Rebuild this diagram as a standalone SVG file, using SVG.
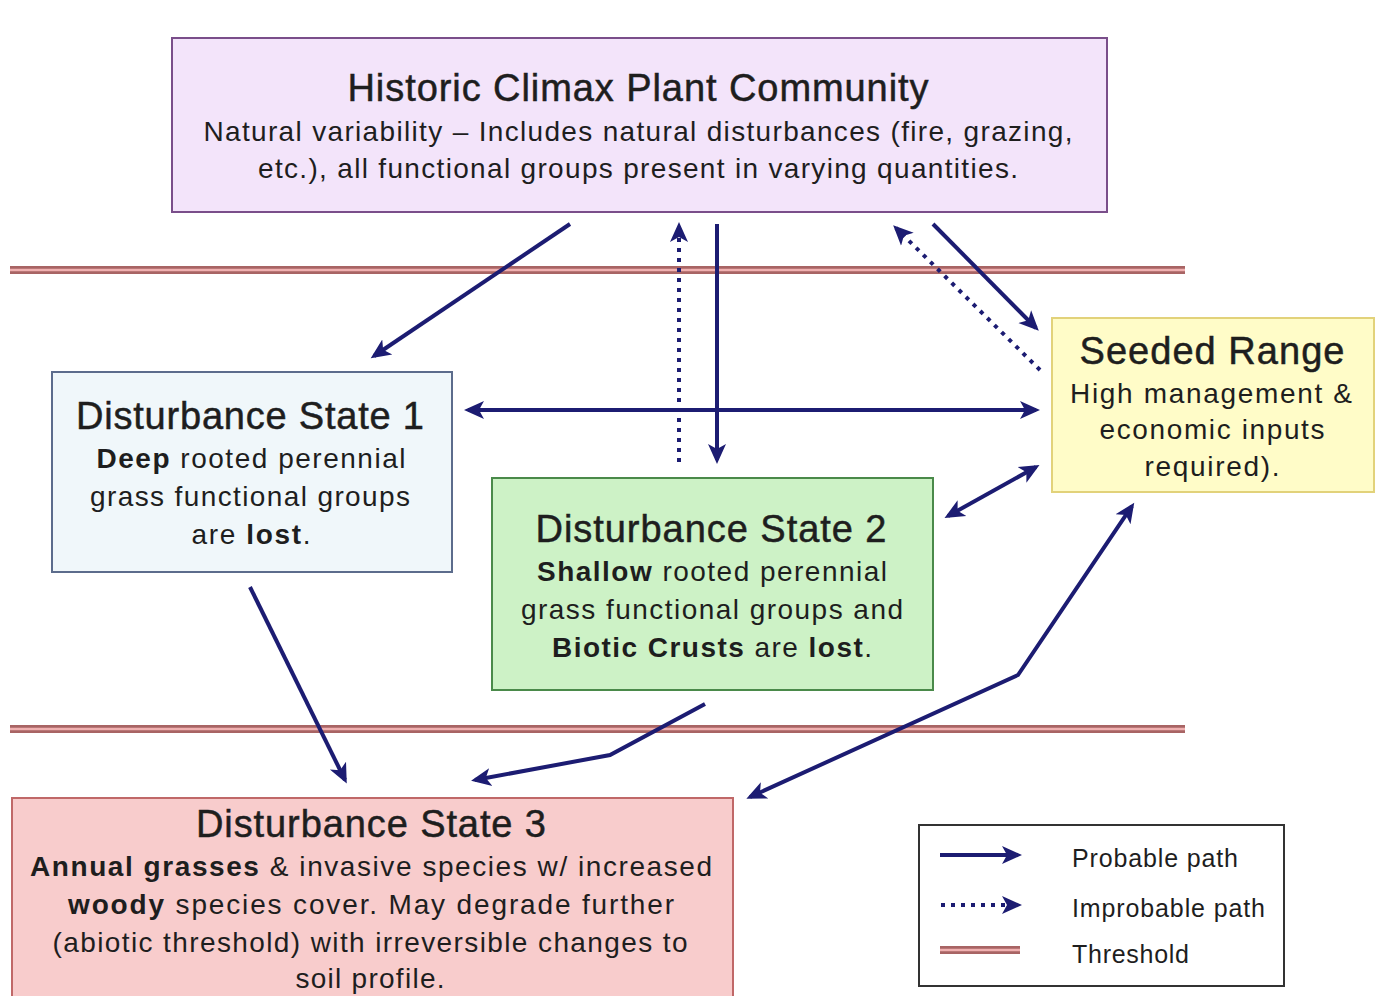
<svg xmlns="http://www.w3.org/2000/svg" width="1380" height="996" viewBox="0 0 1380 996">
<style>
text{font-family:"Liberation Sans",Arial,sans-serif;fill:#1e1e1e;text-anchor:middle}
.t{font-size:38px;stroke:#1e1e1e;stroke-width:0.5}
.s{font-size:28px}
.b{font-weight:bold}
.lg{font-size:25px;text-anchor:start}
.ar{stroke:#1c1c72;stroke-width:4;fill:none}
.dt{stroke:#1c1c72;stroke-width:4;fill:none;stroke-dasharray:4 6}
.th1{stroke:#a86464;stroke-width:8}
.th2{stroke:#f0b0b0;stroke-width:2.5}
</style>
<defs>
<marker id="ah" markerWidth="22" markerHeight="22" refX="16" refY="11" orient="auto" markerUnits="userSpaceOnUse">
<path d="M0,2 L20,11 L0,20 L5,11 Z" fill="#1c1c72"/>
</marker>
<marker id="as" markerWidth="22" markerHeight="22" refX="6" refY="11" orient="auto" markerUnits="userSpaceOnUse">
<path d="M22,2 L2,11 L22,20 L17,11 Z" fill="#1c1c72"/>
</marker>
</defs>
<rect width="1380" height="996" fill="#ffffff"/>
<g id="thresholds">
<line class="th1" x1="10" y1="270" x2="1185" y2="270"/>
<line class="th2" x1="10" y1="270" x2="1185" y2="270"/>
<line class="th1" x1="10" y1="729" x2="1185" y2="729"/>
<line class="th2" x1="10" y1="729" x2="1185" y2="729"/>
</g>
<g id="hcpc">
<rect x="172" y="38" width="935" height="174" fill="#f3e4fa" stroke="#7a4e8a" stroke-width="2"/>
<text class="t" x="638" y="101" textLength="581">Historic Climax Plant Community</text>
<text class="s" x="638" y="141" textLength="869">Natural variability – Includes natural disturbances (fire, grazing,</text>
<text class="s" x="638" y="178" textLength="760">etc.), all functional groups present in varying quantities.</text>
</g>
<g id="ds1">
<rect x="52" y="372" width="400" height="200" fill="#f0f7fa" stroke="#5c6c8c" stroke-width="2"/>
<text class="t" x="250" y="429" textLength="348">Disturbance State 1</text>
<text class="s" x="251" y="468" textLength="309"><tspan class="b">Deep</tspan> rooted perennial</text>
<text class="s" x="250" y="506" textLength="320">grass functional groups</text>
<text class="s" x="251" y="544" textLength="119">are <tspan class="b">lost</tspan>.</text>
</g>
<g id="ds2">
<rect x="492" y="478" width="441" height="212" fill="#cdf2c6" stroke="#4a8a4a" stroke-width="2"/>
<text class="t" x="711" y="542" textLength="351">Disturbance State 2</text>
<text class="s" x="712" y="581" textLength="350"><tspan class="b">Shallow</tspan> rooted perennial</text>
<text class="s" x="712" y="619" textLength="382">grass functional groups and</text>
<text class="s" x="712" y="657" textLength="320"><tspan class="b">Biotic Crusts</tspan> are <tspan class="b">lost</tspan>.</text>
</g>
<g id="seeded">
<rect x="1052" y="318" width="322" height="174" fill="#fffcc8" stroke="#e2d27a" stroke-width="2"/>
<text class="t" x="1212" y="364" textLength="265">Seeded Range</text>
<text class="s" x="1211" y="403" textLength="282">High management &amp;</text>
<text class="s" x="1212" y="439" textLength="225">economic inputs</text>
<text class="s" x="1212" y="476" textLength="135">required).</text>
</g>
<g id="ds3">
<rect x="12" y="798" width="721" height="210" fill="#f8cccc" stroke="#c06868" stroke-width="2"/>
<text class="t" x="371" y="837" textLength="350">Disturbance State 3</text>
<text class="s" x="371" y="876" textLength="682"><tspan class="b">Annual grasses</tspan> &amp; invasive species w/ increased</text>
<text class="s" x="371" y="914" textLength="606"><tspan class="b">woody</tspan> species cover.  May degrade further</text>
<text class="s" x="370" y="952" textLength="635">(abiotic threshold) with irreversible changes to</text>
<text class="s" x="370" y="988" textLength="149">soil profile.</text>
</g>
<g id="connectors">
<line class="ar" x1="570" y1="224" x2="374" y2="356" marker-end="url(#ah)"/>
<line class="dt" x1="679" y1="462" x2="679" y2="226" marker-end="url(#ah)"/>
<line class="ar" x1="717" y1="224" x2="717" y2="460" marker-end="url(#ah)"/>
<line class="dt" x1="1040" y1="370" x2="896" y2="228" marker-end="url(#ah)"/>
<line class="ar" x1="933" y1="224" x2="1036" y2="328" marker-end="url(#ah)"/>
<line class="ar" x1="468" y1="410" x2="1036" y2="410" marker-start="url(#as)" marker-end="url(#ah)"/>
<line class="ar" x1="948" y1="516" x2="1036" y2="467" marker-start="url(#as)" marker-end="url(#ah)"/>
<line class="ar" x1="250" y1="587" x2="345" y2="780" marker-end="url(#ah)"/>
<polyline class="ar" points="705,704 610,755 475,780" marker-end="url(#ah)"/>
<polyline class="ar" points="750,797 1018,675 1132,506" marker-start="url(#as)" marker-end="url(#ah)"/>
</g>
<g id="legend">
<rect x="919" y="825" width="365" height="161" fill="#ffffff" stroke="#333333" stroke-width="2"/>
<line class="ar" x1="940" y1="855" x2="1018" y2="855" marker-end="url(#ah)"/>
<line class="dt" x1="941" y1="905" x2="1018" y2="905" marker-end="url(#ah)"/>
<line class="th1" x1="940" y1="950" x2="1020" y2="950"/>
<line class="th2" x1="940" y1="950" x2="1020" y2="950"/>
<text class="lg" x="1072" y="867" textLength="166">Probable path</text>
<text class="lg" x="1072" y="917" textLength="193">Improbable path</text>
<text class="lg" x="1072" y="963" textLength="117">Threshold</text>
</g>
</svg>
